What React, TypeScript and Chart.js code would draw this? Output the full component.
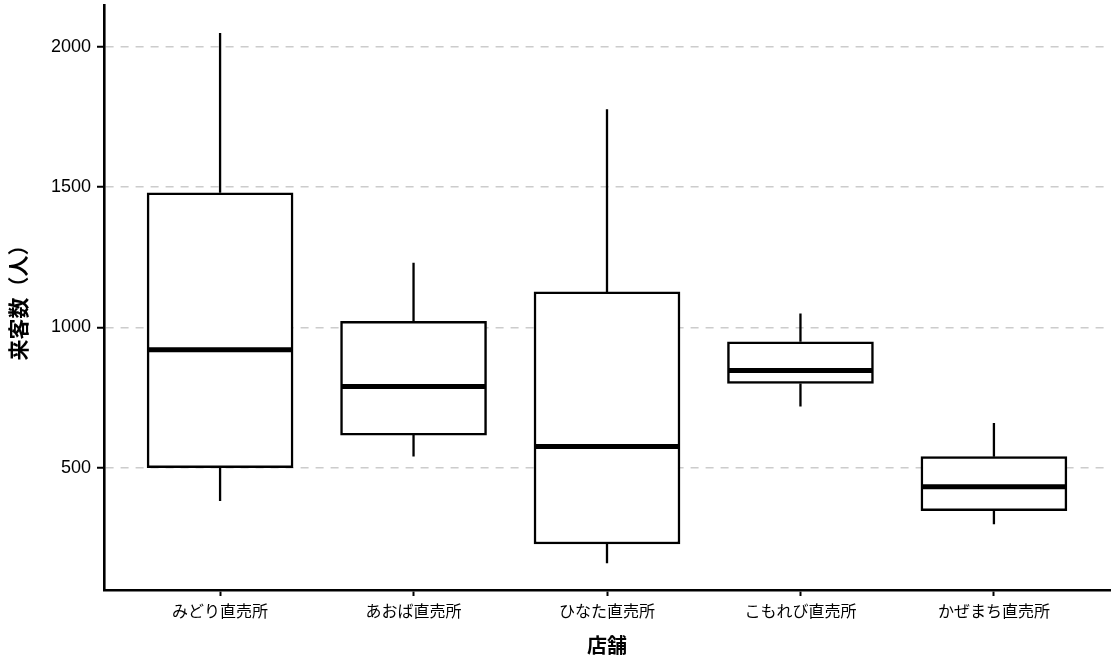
// App.tsx
import React, { useEffect, useRef } from "react";
import { Chart, registerables } from "chart.js";

Chart.register(...registerables);

const stores = ["みどり直売所", "あおば直売所", "ひなた直売所", "こもれび直売所", "かぜまち直売所"];
const whiskerLow = [381, 540, 159, 718, 298];
const q1 = [500, 616, 228, 800, 347];
const median = [920, 789, 575, 846, 432];
const q3 = [1479, 1021, 1126, 948, 539];
const whiskerHigh = [2048, 1230, 1777, 1049, 659];
const yTicks = [500, 1000, 1500, 2000];

// whiskers + median line, drawn on top of the boxes
const boxPlugin = {
  id: "boxWhiskers",
  afterDatasetsDraw(chart: any) {
    const { ctx, scales } = chart;
    const y = scales.y;
    const bars = chart.getDatasetMeta(0).data;
    ctx.save();
    ctx.strokeStyle = "#000";
    bars.forEach((bar: any, i: number) => {
      const cx = bar.x;
      const half = bar.width / 2;
      ctx.lineWidth = 2.3;
      ctx.beginPath();
      ctx.moveTo(cx, y.getPixelForValue(q3[i]));
      ctx.lineTo(cx, y.getPixelForValue(whiskerHigh[i]));
      ctx.moveTo(cx, y.getPixelForValue(q1[i]));
      ctx.lineTo(cx, y.getPixelForValue(whiskerLow[i]));
      ctx.stroke();
      const ym = y.getPixelForValue(median[i]);
      ctx.lineWidth = 5;
      ctx.beginPath();
      ctx.moveTo(cx - half + 1, ym);
      ctx.lineTo(cx + half - 1, ym);
      ctx.stroke();
    });
    ctx.restore();
  },
};

const BoxPlot: React.FC = () => {
  const chartRef = useRef<HTMLCanvasElement>(null);

  useEffect(() => {
    if (!chartRef.current) return;
    const ctx = chartRef.current.getContext("2d");
    if (!ctx) return;
    const chart = new Chart(ctx, {
      type: "bar",
      data: {
        datasets: [
          {
            data: stores.map((_, i) => ({ x: i + 1, y: [q1[i], q3[i]] })) as any,
            backgroundColor: "#ffffff",
            borderColor: "#000000",
            borderWidth: 2.5,
            borderSkipped: false,
            barThickness: 146,
          },
        ],
      },
      options: {
        animation: false,
        responsive: false,
        layout: { padding: { top: 5, right: 6, left: 0, bottom: 0 } },
        plugins: {
          legend: { display: false },
          tooltip: { enabled: false },
        },
        scales: {
          x: {
            type: "linear",
            min: 0.4,
            max: 5.6,
            offset: false,
            afterBuildTicks: (s: any) => {
              s.ticks = stores.map((_, i) => ({ value: i + 1 }));
            },
            afterFit: (s: any) => {
              s.height = 75;
              s.paddingLeft = 0;
              s.paddingRight = 0;
            },
            ticks: {
              autoSkip: false,
              maxRotation: 0,
              padding: 5,
              color: "#000",
              font: { family: "'Noto Sans CJK JP'", size: 16 },
              callback: (v: any) => stores[Number(v) - 1],
            },
            grid: {
              offset: false,
              drawOnChartArea: false,
              tickColor: "#000",
              tickWidth: 2,
              tickLength: 6,
            },
            border: { display: true, color: "#000", width: 2.6 },
            title: {
              display: true,
              text: "店舗",
              color: "#000",
              font: { family: "'Noto Sans CJK JP'", size: 20, weight: "bold" },
              padding: { top: 0, bottom: 8 },
            },
          },
          y: {
            min: 64,
            max: 2148,
            afterBuildTicks: (s: any) => {
              s.ticks = yTicks.map((v) => ({ value: v }));
            },
            afterFit: (s: any) => {
              s.width = 104;
              s.paddingTop = 0;
              s.paddingBottom = 0;
            },
            ticks: {
              padding: 6,
              color: "#000",
              font: { family: "'Liberation Sans'", size: 18 },
              callback: (v: any) => String(v),
            },
            grid: {
              color: "#cccccc",
              lineWidth: 1.5,
              tickColor: "#000",
              tickWidth: 2,
              tickLength: 7,
              tickBorderDash: [],
            },
            border: { display: true, color: "#000", width: 2.6, dash: [8, 7] },
            title: {
              display: true,
              text: "来客数（人）",
              color: "#000",
              font: { family: "'Noto Sans CJK JP'", size: 21, weight: "bold" },
              padding: { top: 5, bottom: 0 },
            },
          },
        },
      },
      plugins: [boxPlugin],
    });

    return () => {
      chart.destroy();
    };
  }, []);

  return <canvas ref={chartRef} width={1116} height={665} />;
};

export default function App() {
  return (
    <div style={{ position: "fixed", left: 0, top: 0, width: 1116, height: 665, background: "#fff" }}>
      <BoxPlot />
    </div>
  );
}
